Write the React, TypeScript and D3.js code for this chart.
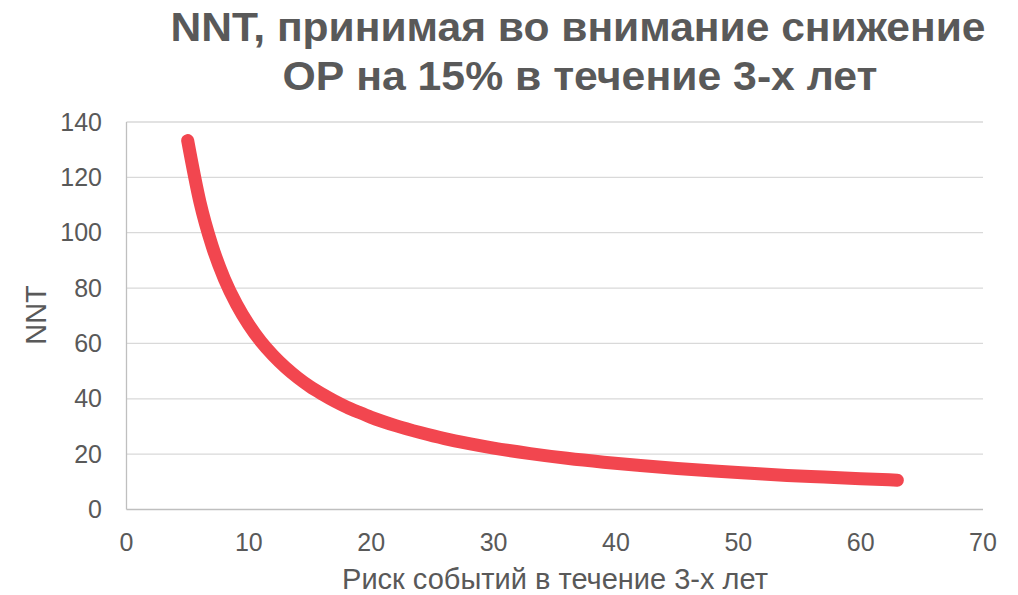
import React from "react";
import * as d3 from "d3";

// Event risk over 3 years (%) and the resulting NNT at a 15% relative risk reduction
const riskValues = [5, 6, 7, 8, 9, 10, 11, 12, 13, 14, 15, 16, 17, 18, 19, 20, 22, 24, 26, 28, 30, 33, 36, 39, 42, 45, 48, 51, 54, 57, 60, 63];
const nntValues = [133.3, 111.1, 95.2, 83.3, 74.1, 66.7, 60.6, 55.6, 51.3, 47.6, 44.4, 41.7, 39.2, 37.0, 35.1, 33.3, 30.3, 27.8, 25.6, 23.8, 22.2, 20.2, 18.5, 17.1, 15.9, 14.8, 13.9, 13.1, 12.3, 11.7, 11.1, 10.6];

const xTicks = [0, 10, 20, 30, 40, 50, 60, 70];
const yTicks = [0, 20, 40, 60, 80, 100, 120, 140];

const titleLines = ["NNT, принимая во внимание снижение", "ОР на 15% в течение 3-х лет"];
const xAxisTitle = "Риск событий в течение 3-х лет";
const yAxisTitle = "NNT";

const W = 1018;
const H = 595;
const plot = { left: 126.5, right: 983, top: 122, bottom: 509.5 };

export default function App() {
  const x = d3.scaleLinear().domain([0, 70]).range([plot.left, plot.right]);
  const y = d3.scaleLinear().domain([0, 140]).range([plot.bottom, plot.top]);

  const points = riskValues.map((r, i) => [r, nntValues[i]] as [number, number]);
  const line = d3
    .line<[number, number]>()
    .x((d) => x(d[0]))
    .y((d) => y(d[1]))
    .curve(d3.curveMonotoneX);

  const font = "'Liberation Sans', Arial, sans-serif";
  const textColor = "#595959";

  return (
    <svg
      width={W}
      height={H}
      style={{ position: "absolute", left: 0, top: 0, background: "#fff" }}
      fontFamily={font}
    >
      {/* title */}
      <text x={578} y={41} textAnchor="middle" fontSize={41} fontWeight="bold" fill={textColor}
        textLength={815} lengthAdjust="spacingAndGlyphs">
        {titleLines[0]}
      </text>
      <text x={580} y={90} textAnchor="middle" fontSize={41} fontWeight="bold" fill={textColor}
        textLength={595} lengthAdjust="spacingAndGlyphs">
        {titleLines[1]}
      </text>

      {/* horizontal gridlines */}
      {yTicks.map((t) => (
        <line key={"g" + t} x1={plot.left} x2={plot.right} y1={y(t)} y2={y(t)}
          stroke={t === 0 ? "#bfbfbf" : "#d9d9d9"} strokeWidth={1.3} />
      ))}
      {/* y axis line */}
      <line x1={plot.left} x2={plot.left} y1={plot.top} y2={plot.bottom} stroke="#bfbfbf" strokeWidth={1.3} />

      {/* y tick labels */}
      {yTicks.map((t) => (
        <text key={"yl" + t} x={102} y={y(t) + 8.5} textAnchor="end" fontSize={25} fill={textColor}>
          {t}
        </text>
      ))}
      {/* x tick labels */}
      {xTicks.map((t) => (
        <text key={"xl" + t} x={x(t)} y={551} textAnchor="middle" fontSize={25} fill={textColor}>
          {t}
        </text>
      ))}

      {/* axis titles */}
      <text x={555} y={589} textAnchor="middle" fontSize={29} fill={textColor}>
        {xAxisTitle}
      </text>
      <text transform={`translate(46, 315) rotate(-90)`} textAnchor="middle" fontSize={29} fill={textColor}>
        {yAxisTitle}
      </text>

      {/* NNT curve */}
      <path d={line(points) ?? ""} fill="none" stroke="#F2464F" strokeWidth={13}
        strokeLinecap="round" strokeLinejoin="round" />
    </svg>
  );
}
